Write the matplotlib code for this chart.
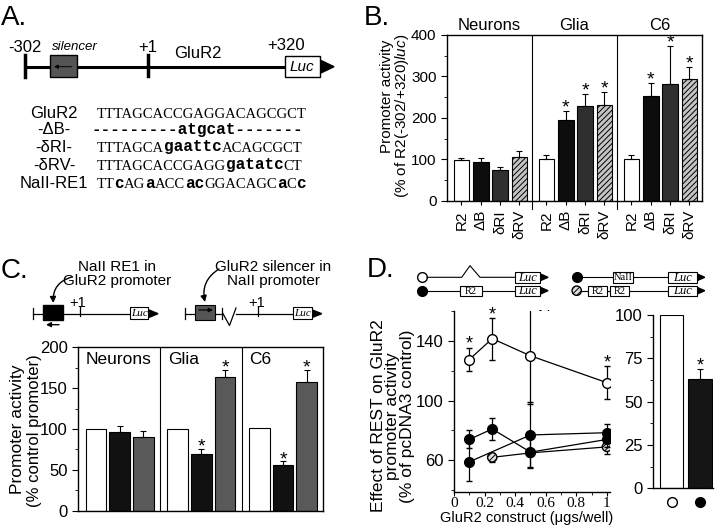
import numpy as np
import matplotlib
matplotlib.use("Agg")
import matplotlib.pyplot as plt
from matplotlib.patches import Rectangle, Polygon
from matplotlib.ticker import MultipleLocator

plt.rcParams['font.family'] = ['Liberation Sans', 'DejaVu Sans']
plt.rcParams['mathtext.fontset'] = 'custom'
plt.rcParams['mathtext.rm'] = 'Liberation Sans'
plt.rcParams['mathtext.it'] = 'Liberation Sans:italic'
plt.rcParams['hatch.linewidth'] = 0.7
plt.rcParams['axes.linewidth'] = 1.0

# ---- panel A: sequences
a_names = ['GluR2', '-ΔB-', '-δRI-', '-δRV-', 'NaII-RE1']
a_seqs = [
    [('TTTAGCACCGAGGACAGCGCT', 0)],
    [('---------atgcat-------', 1)],
    [('TTTAGCA', 0), ('gaattc', 1), ('ACAGCGCT', 0)],
    [('TTTAGCACCGAGG', 0), ('gatatc', 1), ('CT', 0)],
    [('TT', 0), ('c', 1), ('AG', 0), ('a', 1), ('ACC', 0), ('ac', 1),
     ('GGACAGC', 0), ('a', 1), ('C', 0), ('c', 1)],
]

# ---- panel B: promoter activity (% of R2(-302/+320)luc)
b_groups = ['Neurons', 'Glia', 'C6']
b_constructs = ['R2', 'ΔB', 'δRI', 'δRV']
b_neurons = [98, 93, 74, 105]
b_glia = [100, 195, 228, 232]
b_c6 = [102, 252, 282, 295]
b_neurons_err = [5, 10, 8, 15]
b_glia_err = [10, 22, 30, 30]
b_c6_err = [10, 32, 92, 28]
b_stars = [[], [1, 2, 3], [1, 2, 3]]

# ---- panel C: promoter activity (% control promoter)
c_groups = ['Neurons', 'Glia', 'C6']
c_neurons = [100, 96, 90]
c_glia = [100, 69, 164]
c_c6 = [101, 56, 158]
c_neurons_err = [0, 8, 8]
c_glia_err = [0, 7, 8]
c_c6_err = [0, 4.5, 14]
c_stars = [[], [1, 2], [1, 2]]

# ---- panel D: effect of REST
d_x = [0.1, 0.25, 0.5, 1.0]
d_open = [127.5, 141.5, 130, 112]
d_open_err = [8, 14, 32, 11]
d_r2_x = [0.1, 0.25, 0.5, 1.0]
d_r2 = [74, 81, 65.5, 74]
d_r2_err = [6, 7.5, 10, 5]
d_naii_x = [0.1, 0.5, 1.0]
d_naii = [59, 77, 78.5]
d_naii_err = [13, 22, 6]
d_r2r2_x = [0.25, 0.5, 1.0]
d_r2r2 = [62, 65, 69]
d_r2r2_err = [3, 0, 4.5]
d_open_stars = [0, 1, 3]
d_bar = [100, 63]
d_bar_err = [0, 6]

W, H = 720, 528


def box(l, t, r, b):
    return [l / W, 1 - b / H, (r - l) / W, (b - t) / H]


def star(ax, x, y, size=14, dy=-1):
    ax.annotate('*', (x, y), xytext=(0, dy), textcoords='offset points',
                ha='center', va='baseline', fontsize=size, annotation_clip=False)


fig = plt.figure(figsize=(7.2, 5.28), dpi=100)
ov = fig.add_axes([0, 0, 1, 1])
ov.set_xlim(0, W)
ov.set_ylim(H, 0)
ov.axis('off')
renderer = fig.canvas.get_renderer()

# panel letters
for lx, ly, s in [(1, 25, 'A.'), (364, 25, 'B.'), (1, 278, 'C.'), (367, 277, 'D.')]:
    ov.text(lx, ly, s, fontsize=20, va='baseline')

# ================= A: diagram
ov.plot([25, 321], [66.7, 66.7], color='k', lw=2.2)
ov.plot([25, 25], [55, 77], color='k', lw=2.5)
ov.plot([148.3, 148.3], [55, 76], color='k', lw=2.5)
ov.add_patch(Rectangle((50, 55), 27.3, 21.7, fc='#555555', ec='k', lw=1, zorder=3))
ov.annotate('', xy=(54, 66.7), xytext=(72, 66.7),
            arrowprops=dict(arrowstyle='-|>', color='k', lw=0.7, mutation_scale=6,
                            shrinkA=0, shrinkB=0), zorder=4)
ov.add_patch(Rectangle((285, 56), 35, 21.3, fc='white', ec='k', lw=1, zorder=3))
ov.text(302, 67, 'Luc', style='italic', fontsize=11, ha='center', va='center', zorder=4)
ov.add_patch(Polygon([(320, 60), (334, 66.7), (320, 73.4)], fc='k', ec='k'))
ov.text(25, 47, '-302', fontsize=12, ha='center', va='center')
ov.text(75, 47.5, 'silencer', fontsize=9.5, style='italic', ha='center', va='center')
ov.text(148, 47, '+1', fontsize=12, ha='center', va='center')
ov.text(198, 53, 'GluR2', fontsize=12, ha='center', va='center')
ov.text(286, 46, '+320', fontsize=12, ha='center', va='center')

# A: sequences
a_base = [117.5, 134, 151.5, 169.5, 188]
for name, parts, yb in zip(a_names, a_seqs, a_base):
    ov.text(54, yb, name, fontsize=12, ha='center', va='baseline')
    x = 91.7 if name == '-ΔB-' else 96.7
    for s, bold in parts:
        if bold:
            t = ov.text(x, yb, s, family='Liberation Mono', weight='bold',
                        fontsize=11.5, va='baseline')
        else:
            t = ov.text(x, yb, s, family='Liberation Serif', fontsize=10.5,
                        va='baseline')
        x += t.get_window_extent(renderer).width

# ================= B
axB = fig.add_axes(box(447, 35, 702, 201))
gw = 4.4
b_vals = [b_neurons, b_glia, b_c6]
b_errs = [b_neurons_err, b_glia_err, b_c6_err]
b_colors = ['white', '#0d0d0d', '#2f2f2f', '#c4c4c4']
b_hatch = [None, None, None, '//////']
xt, xl = [], []
for g, (vals, errs) in enumerate(zip(b_vals, b_errs)):
    xs = g * gw + 0.75 + np.arange(4)
    for i in range(4):
        axB.bar(xs[i], vals[i], 0.8, color=b_colors[i], edgecolor='k',
                linewidth=0.8, hatch=b_hatch[i])
        axB.errorbar(xs[i], vals[i], yerr=[[0], [errs[i]]], color='k',
                     capsize=2.5, lw=0.8, capthick=0.8)
    for i in b_stars[g]:
        star(axB, xs[i], vals[i] + errs[i])
    axB.text(g * gw + gw / 2, 424, b_groups[g], fontsize=12, ha='center', va='center')
    xt += list(xs)
    xl += b_constructs
for g in (1, 2):
    axB.plot([g * gw] * 2, [-20, 400], color='k', lw=0.8, clip_on=False)
axB.set_xlim(0, 3 * gw)
axB.set_ylim(0, 400)
axB.set_yticks([0, 100, 200, 300, 400])
axB.yaxis.set_minor_locator(MultipleLocator(50))
axB.set_xticks(xt)
axB.set_xticklabels(xl, rotation=90)
axB.tick_params(axis='y', labelsize=11, length=4)
axB.tick_params(axis='x', labelsize=11, length=3)
ov.text(387, 96, 'Promoter activity', rotation=90, fontsize=11, ha='center', va='center')
ov.text(402, 116, r'(% of R2(-302/+320)$\mathit{luc}$)', rotation=90, fontsize=11,
        ha='center', va='center')

# ================= C: diagrams
ly = 313.7
ov.plot([33.3, 149], [ly, ly], color='k', lw=0.9)
ov.plot([33.3, 33.3], [308, 319], color='k', lw=0.9)
ov.add_patch(Rectangle((43.3, 305.3), 20, 15, fc='k', ec='k', zorder=3))
ov.annotate('', xy=(46, 324.7), xytext=(59, 324.7),
            arrowprops=dict(arrowstyle='-|>', color='k', lw=1, mutation_scale=7,
                            shrinkA=0, shrinkB=0))
ov.plot([80, 80], [307, 316], color='k', lw=0.9)
ov.text(78, 303, '+1', fontsize=10.5, ha='center', va='center')
ov.add_patch(Rectangle((130, 307), 18.3, 11.7, fc='white', ec='k', lw=0.8, zorder=3))
ov.text(139.2, 313, 'Luc', family='Liberation Serif', style='italic', fontsize=8,
        ha='center', va='center', zorder=4)
ov.add_patch(Polygon([(148.3, 309.7), (158, 313.7), (148.3, 317.7)], fc='k', ec='k'))
ov.text(116.7, 274, 'NaII RE1 in\nGluR2 promoter', fontsize=11, ha='center',
        va='center', linespacing=1.0)
ov.annotate('', xy=(53.3, 303), xytext=(72, 277),
            arrowprops=dict(arrowstyle='-|>', color='k', lw=1, mutation_scale=9,
                            connectionstyle='arc3,rad=0.4', shrinkA=0, shrinkB=0))

ov.plot([185, 222], [ly, ly], color='k', lw=0.9)
ov.plot([185, 185], [308, 319], color='k', lw=0.9)
ov.plot([221.7, 221.7], [308, 319], color='k', lw=0.9)
ov.plot([223, 229.5, 236], [ly, 325.5, 308], color='k', lw=0.9)
ov.plot([236, 312], [ly, ly], color='k', lw=0.9)
ov.add_patch(Rectangle((195, 305.3), 20, 15, fc='#555555', ec='k', lw=0.8, zorder=3))
ov.annotate('', xy=(213, 310), xytext=(199, 310),
            arrowprops=dict(arrowstyle='-|>', color='k', lw=0.9, mutation_scale=6,
                            shrinkA=0, shrinkB=0), zorder=4)
ov.plot([258.3, 258.3], [307, 316], color='k', lw=0.9)
ov.text(257, 303, '+1', fontsize=10.5, ha='center', va='center')
ov.add_patch(Rectangle((293.3, 307), 18.3, 11.7, fc='white', ec='k', lw=0.8, zorder=3))
ov.text(302.5, 313, 'Luc', family='Liberation Serif', style='italic', fontsize=8,
        ha='center', va='center', zorder=4)
ov.add_patch(Polygon([(311.6, 309.7), (321.7, 313.7), (311.6, 317.7)], fc='k', ec='k'))
ov.text(273.3, 274, 'GluR2 silencer in\nNaII promoter', fontsize=11, ha='center',
        va='center', linespacing=1.0)
ov.annotate('', xy=(205, 302), xytext=(219, 269),
            arrowprops=dict(arrowstyle='-|>', color='k', lw=1, mutation_scale=9,
                            connectionstyle='arc3,rad=0.35', shrinkA=0, shrinkB=0))

# ================= C: bars
axC = fig.add_axes(box(78.3, 347.3, 323.3, 510.7))
cgw = 3.45
c_vals = [c_neurons, c_glia, c_c6]
c_errs = [c_neurons_err, c_glia_err, c_c6_err]
c_colors = ['white', '#111111', '#595959']
for g, (vals, errs) in enumerate(zip(c_vals, c_errs)):
    xs = g * cgw + 0.75 + np.arange(3)
    for i in range(3):
        axC.bar(xs[i], vals[i], 0.87, color=c_colors[i], edgecolor='k', linewidth=0.8)
        if errs[i] > 0:
            axC.errorbar(xs[i], vals[i], yerr=[[0], [errs[i]]], color='k',
                         capsize=2.5, lw=0.8, capthick=0.8)
    for i in c_stars[g]:
        star(axC, xs[i], vals[i] + errs[i], dy=-2)
    axC.text(g * cgw + 0.33, 185, c_groups[g], fontsize=12.5, ha='left', va='center')
for g in (1, 2):
    axC.axvline(g * cgw, color='k', lw=0.8)
axC.set_xlim(0, 3 * cgw)
axC.set_ylim(0, 200)
axC.set_yticks([0, 50, 100, 150, 200])
axC.yaxis.set_minor_locator(MultipleLocator(25))
axC.set_xticks([])
axC.tick_params(axis='y', labelsize=12, length=4)
ov.text(18, 429, 'Promoter activity', rotation=90, fontsize=12.5, ha='center', va='center')
ov.text(35, 431, '(% control promoter)', rotation=90, fontsize=12, ha='center', va='center')

# ================= D: diagrams
r1, r2 = 277.3, 290.7
ov.plot([421.7], [r1], 'o', ms=7, mfc='white', mec='k', mew=1)
ov.plot([421.7], [r2], 'o', ms=7, mfc='k', mec='k')
ov.plot([427, 461.7, 470, 480, 515], [r1, r1, 265.7, r1, r1], color='k', lw=0.8)
ov.plot([427, 515], [r2, r2], color='k', lw=0.8)
ov.add_patch(Rectangle((460, 285.5), 21.7, 10.5, fc='white', ec='k', lw=0.8, zorder=3))
ov.text(470.8, 291, 'R2', family='Liberation Serif', fontsize=7.5, ha='center',
        va='center', zorder=4)
ov.plot([576.7], [r1], 'o', ms=7, mfc='k', mec='k')
ov.scatter([576.7], [r2], s=45, facecolor='#dddddd', edgecolor='k', hatch='//////',
           lw=1, zorder=3)
ov.plot([582, 668], [r1, r1], color='k', lw=0.8)
ov.plot([582, 668], [r2, r2], color='k', lw=0.8)
ov.add_patch(Rectangle((613.3, 272.2), 20, 10.5, fc='white', ec='k', lw=0.8, zorder=3))
ov.text(623.3, 277.6, 'NaII', family='Liberation Serif', fontsize=7.5, ha='center',
        va='center', zorder=4)
for bx in (588.3, 610):
    ov.add_patch(Rectangle((bx, 285.5), 19, 10.5, fc='white', ec='k', lw=0.8, zorder=3))
    ov.text(bx + 9.5, 291, 'R2', family='Liberation Serif', fontsize=7.5, ha='center',
            va='center', zorder=4)
for lx0, lx1 in [(515, 540), (668.3, 696.7)]:
    for yy in (r1, r2):
        ov.add_patch(Rectangle((lx0, yy - 5.2), lx1 - lx0, 10.5, fc='white', ec='k',
                               lw=0.8, zorder=3))
        ov.text((lx0 + lx1) / 2, yy + 0.3, 'Luc', family='Liberation Serif',
                style='italic', fontsize=9, ha='center', va='center', zorder=4)
        ov.add_patch(Polygon([(lx1, yy - 3.5), (lx1 + 8, yy), (lx1, yy + 3.5)],
                             fc='k', ec='k'))

# ================= D: dose curves
axD = fig.add_axes(box(454, 311, 610, 491.7))
axD.errorbar(d_x, d_open, yerr=d_open_err, fmt='-o', color='k', mfc='white', mec='k',
             ms=7, mew=1, capsize=2.5, lw=0.9, elinewidth=0.9, zorder=2)
axD.scatter(d_r2r2_x, d_r2r2, s=45, facecolor='#dddddd', edgecolor='k', hatch='//////',
            lw=1, zorder=3)
axD.errorbar(d_r2r2_x, d_r2r2, yerr=d_r2r2_err, fmt='-', color='k', capsize=2.5,
             lw=0.9, elinewidth=0.9, zorder=2.5)
axD.errorbar(d_r2_x, d_r2, yerr=d_r2_err, fmt='-o', color='k', mfc='k', ms=7,
             capsize=2.5, lw=0.9, elinewidth=0.9, zorder=4)
axD.errorbar(d_naii_x, d_naii, yerr=d_naii_err, fmt='-o', color='k', mfc='k', ms=7,
             capsize=2.5, lw=0.9, elinewidth=0.9, zorder=4)
for i in d_open_stars:
    star(axD, d_x[i], d_open[i] + d_open_err[i], size=13)
axD.set_xlim(0, 1.02)
axD.set_ylim(39, 160)
axD.spines['top'].set_visible(False)
axD.spines['right'].set_visible(False)
axD.set_xticks([0, 0.2, 0.4, 0.6, 0.8, 1.0])
axD.set_xticklabels(['0', '0.2', '0.4', '0.6', '0.8', '1'], family='Liberation Serif')
axD.xaxis.set_minor_locator(MultipleLocator(0.1))
axD.set_yticks([60, 100, 140])
axD.yaxis.set_minor_locator(MultipleLocator(20))
axD.tick_params(axis='x', which='major', labelsize=11, length=3, pad=1)
axD.tick_params(axis='x', which='minor', length=2)
axD.tick_params(axis='y', labelsize=12, length=4)
ov.text(527, 518, 'GluR2 construct (μgs/well)', fontsize=10.5, ha='center', va='center')
ov.text(538, 317, 'Neurons', fontsize=12.5, va='center')
ov.text(393, 416,
        'Effect of REST on GluR2\npromoter activity\n(% of pcDNA3 control)',
        rotation=90, fontsize=12.5, ha='center', va='center', linespacing=0.92)

# ================= D: bars
axE = fig.add_axes(box(653.3, 315, 713, 488.3))
axE.bar([0, 1], d_bar, 0.82, color=['white', '#151515'], edgecolor='k', linewidth=0.8)
axE.errorbar([1], [d_bar[1]], yerr=[[0], [d_bar_err[1]]], color='k', capsize=2.5,
             lw=0.8, capthick=0.8)
star(axE, 1, d_bar[1] + d_bar_err[1], size=13)
axE.set_xlim(-0.65, 1.46)
axE.set_ylim(0, 100)
axE.spines['top'].set_visible(False)
axE.spines['right'].set_visible(False)
axE.set_yticks([0, 25, 50, 75, 100])
axE.yaxis.set_minor_locator(MultipleLocator(12.5))
axE.set_xticks([])
axE.tick_params(axis='y', labelsize=12, length=4)
tr = axE.get_xaxis_transform()
axE.plot([0], [-0.077], 'o', ms=7, mfc='white', mec='k', mew=1, transform=tr, clip_on=False)
axE.plot([1], [-0.077], 'o', ms=7, mfc='k', mec='k', transform=tr, clip_on=False)

fig.savefig('out.png', dpi=100)
